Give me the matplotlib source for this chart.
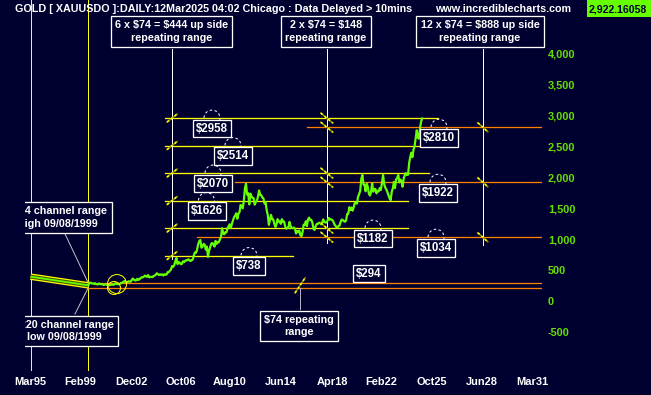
import matplotlib
matplotlib.use('Agg')
import matplotlib.pyplot as plt
from matplotlib.patches import Ellipse, Rectangle
import numpy as np

# ---------------- data ----------------
# monthly gold price (USD/oz), Aug 1999 .. Mar 2025
price_start = 1999 + 7.5 / 12
prices = [
    256, 299, 300, 292, 288,
    283, 293, 278, 274, 273, 288, 276, 277, 273, 264, 270, 274,
    266, 267, 258, 264, 267, 270, 266, 273, 293, 279, 275, 277,
    282, 297, 301, 309, 326, 318, 304, 312, 324, 317, 317, 347,
    368, 348, 335, 339, 364, 346, 354, 375, 388, 386, 398, 416,
    400, 396, 424, 388, 393, 394, 391, 408, 416, 428, 453, 438,
    423, 435, 428, 435, 417, 436, 429, 434, 473, 470, 495, 513,
    569, 557, 582, 650, 700, 600, 633, 624, 599, 604, 646, 632,
    651, 665, 662, 680, 659, 650, 666, 673, 743, 789, 783, 834,
    923, 972, 990, 865, 887, 926, 914, 834, 884, 718, 815, 870,
    928, 942, 916, 883, 975, 927, 955, 955, 1001, 1040, 1180, 1096,
    1081, 1116, 1113, 1180, 1213, 1244, 1181, 1248, 1307, 1357, 1386, 1421,
    1332, 1411, 1439, 1556, 1536, 1500, 1628, 1826, 1900, 1722, 1746, 1565,
    1738, 1697, 1668, 1664, 1560, 1604, 1622, 1691, 1790, 1719, 1713, 1675,
    1663, 1578, 1596, 1472, 1393, 1234, 1313, 1396, 1327, 1323, 1253, 1202,
    1240, 1326, 1284, 1291, 1250, 1327, 1282, 1287, 1210, 1172, 1183, 1199,
    1283, 1213, 1183, 1184, 1190, 1172, 1095, 1135, 1115, 1142, 1065, 1050,
    1118, 1238, 1233, 1293, 1215, 1322, 1351, 1309, 1316, 1273, 1173, 1152,
    1211, 1249, 1249, 1268, 1268, 1242, 1269, 1322, 1280, 1271, 1275, 1303,
    1345, 1318, 1325, 1315, 1299, 1253, 1224, 1201, 1192, 1215, 1222, 1282,
    1321, 1313, 1292, 1284, 1305, 1409, 1413, 1520, 1472, 1513, 1464, 1517,
    1589, 1585, 1577, 1686, 1730, 1781, 1975, 2040, 1887, 1879, 1776, 1898,
    1848, 1734, 1708, 1769, 1907, 1770, 1814, 1813, 1743, 1783, 1774, 1829,
    1797, 1909, 2040, 1897, 1837, 1807, 1765, 1711, 1660, 1633, 1768, 1824,
    1928, 1827, 1969, 1990, 2040, 1919, 1965, 1940, 1849, 1983, 2036, 2070,
    2039, 2044, 2230, 2330, 2400, 2326, 2447, 2503, 2634, 2760, 2643, 2625,
    2798, 2900, 2950,
]
last_price = '2,922.16058'

# channel 1995 -> 09/08/1999
channel_x = [1995.2, 1999.62]
channel_y = [398, 258]

# levels
base_levels = [294, 220]                 # $74 channel
orange_levels = [1034, 1922, 2810]       # 12 x $74 steps
yellow_levels = [738, 1182, 1626, 2070, 2514, 2958]  # 6 x $74 steps

y_ticks = [-500, 0, 500, 1000, 1500, 2000, 2500, 3000, 3500, 4000]
x_tick_pos = [1995.16, 1999.0, 2002.9, 2006.73, 2010.48, 2014.39, 2018.3,
              2022.05, 2025.96, 2029.79, 2033.62]
x_tick_labels = ['Mar95', 'Feb99', 'Dec02', 'Oct06', 'Aug10', 'Jun14', 'Apr18',
                 'Feb22', 'Oct25', 'Jun28', 'Mar31']

# ---------------- layout ----------------
BG = '#000030'
YEL = '#ffff00'
ORG = '#ff7f00'
GRN = '#66ff00'
AXG = '#66dd00'
FONT = 'Liberation Sans'

W, H, DPI = 651, 395, 72
fig = plt.figure(figsize=(W / DPI, H / DPI), dpi=DPI, facecolor=BG)
ax = fig.add_axes([25 / W, 24 / H, 517 / W, 371 / H], facecolor=BG)
X0, X1 = 1994.77, 2034.39
Y0, Y1 = -1125, 4864
ax.set_xlim(X0, X1)
ax.set_ylim(Y0, Y1)
for s in ax.spines.values():
    s.set_visible(False)

PXX = (X1 - X0) / 517.0   # years per pixel
PXY = (Y1 - Y0) / 371.0   # dollars per pixel

txt = dict(family=FONT, fontweight='bold', color='white', parse_math=False)

# yellow vertical markers
for xv in channel_x:
    ax.axvline(xv, color=YEL, lw=1.0, zorder=2)

# base orange lines
for lv in base_levels:
    ax.plot([channel_x[1], X1], [lv, lv], color=ORG, lw=1.3, zorder=2)

# orange level lines
orange_start = [2007.93, 2010.86, 2016.35]
for lv, xs in zip(orange_levels, orange_start):
    ax.plot([xs, X1], [lv, lv], color=ORG, lw=1.3, zorder=2)

# yellow up side lines
yellow_end = [2015.29, 2024.1, 2024.1, 2025.73, 2027.0, 2026.4]
for lv, xe in zip(yellow_levels, yellow_end):
    ax.plot([2005.5, xe], [lv, lv], color=YEL, lw=1.3, zorder=2)

# channel band and price
ax.plot(channel_x, channel_y, color=YEL, lw=6.5, zorder=3, solid_capstyle='butt')
ax.plot(channel_x, channel_y, color='#4a5a00', lw=4.0, zorder=3, solid_capstyle='butt')
ax.plot(channel_x, channel_y, color=GRN, lw=1.8, zorder=3, solid_capstyle='butt')
t = price_start + np.arange(len(prices)) / 12.0
ax.plot(np.concatenate([[channel_x[1]], t]), [channel_y[1]] + prices,
        color=GRN, lw=2.2, zorder=4, solid_joinstyle='round')

# yellow circles at 2001 low
for cx, cy, r in [(2001.82, 279, 9.5), (2001.59, 215, 6.5)]:
    ax.add_patch(Ellipse((cx, cy), 2 * r * PXX, 2 * r * PXY, fill=False,
                         ec=YEL, lw=1.0, zorder=5))

# callout vertical lines (white)
callout_x = [2006.04, 2017.9, 2029.85]
callout_bottom = [690, 945, 905]
for xv, yb in zip(callout_x, callout_bottom):
    ax.plot([xv, xv], [4070, yb], color='white', lw=1.0, zorder=2)

def slash(x, y, wpx, hpx, forward=True):
    dx, dy = wpx * PXX, hpx * PXY
    if forward:
        xs, ys = [x - dx, x + dx], [y - dy, y + dy]
    else:
        xs, ys = [x - dx, x + dx], [y + dy, y - dy]
    ax.plot(xs, ys, color='#8a8a00', lw=1.6, zorder=5)
    ax.plot(xs, ys, color=YEL, lw=1.6, ls=(0, (1.5, 1.5)), zorder=5)

for lv in yellow_levels:
    slash(callout_x[0], lv, 5, 4, True)
for lv in [2958, 2810, 2070, 1922, 1182, 1034]:
    slash(callout_x[1], lv, 6, 5, False)
for lv in orange_levels:
    slash(callout_x[2], lv, 5, 4.5, False)
slash(2015.85, (base_levels[0] + base_levels[1]) / 2, 5, 7.5, True)
ax.plot([2015.85, 2015.85], [214, -124], color='#b0b0c0', lw=1.0, zorder=2)

# price labels with dashed circle
label_vals = [2958, 2514, 2070, 1626, 1182, 738, 2810, 1922, 1034]
label_x = [2009.10, 2010.71, 2009.18, 2008.68, 2021.44, 2011.94, 2026.50,
           2026.42, 2026.27]
for v, lx in zip(label_vals, label_x):
    ax.add_patch(Ellipse((lx, v), 16 * PXX, 16 * PXY, fill=False, ec='white',
                         lw=1.0, ls=(0, (2.5, 2.5)), zorder=5))
    ax.annotate(f'${v}', xy=(lx, v), xytext=(0, -10.5), textcoords='offset points',
                ha='center', va='center', fontsize=11.5, zorder=7,
                bbox=dict(boxstyle='square,pad=0.25', fc=BG, ec='white', lw=1.3),
                **txt)
ax.annotate(f'${base_levels[0]}', xy=(2021.13, base_levels[0]), xytext=(0, 9.5),
            textcoords='offset points', ha='center', va='center', fontsize=11.5, zorder=7,
            bbox=dict(boxstyle='square,pad=0.25', fc=BG, ec='white', lw=1.3), **txt)

box = dict(boxstyle='square,pad=0.38', fc=BG, ec='white', lw=1.3)
LS = 1.3
# top callout boxes
top_texts = ['6 x $74 = $444 up side\nrepeating range',
             '2 x $74 = $148\nrepeating range',
             '12 x $74 = $888 up side\nrepeating range']
top_x = [2006.01, 2017.82, 2029.64]
for s, bx in zip(top_texts, top_x):
    ax.text(bx, 4353, s, ha='center', va='center', fontsize=10.8, linespacing=LS,
            bbox=box, zorder=7, **txt)

# $74 box
ax.text(2015.77, -398, f'${base_levels[0] - base_levels[1]} repeating\nrange',
        ha='center', va='center', fontsize=10.8, linespacing=LS, bbox=box, zorder=7, **txt)

# channel boxes (clipped at left)
ax.plot([1997.84, channel_x[1]], [1087, base_levels[0]], color='#c0c0c8', lw=1.0, zorder=2)
ax.plot([1998.6, channel_x[1]], [-205, base_levels[1]], color='#c0c0c8', lw=1.0, zorder=2)
ax.text(1997.26, 1353, f'${base_levels[0]} channel range\nhigh 09/08/1999',
        ha='center', va='center', fontsize=10.8, linespacing=LS, bbox=box,
        zorder=7, clip_on=True, **txt)
ax.text(1997.76, -479, f'${base_levels[1]} channel range\nlow 09/08/1999',
        ha='center', va='center', fontsize=10.8, linespacing=LS, bbox=box,
        zorder=7, clip_on=True, **txt)

# axes ticks
ax.yaxis.tick_right()
ax.set_yticks(y_ticks)
ax.set_yticklabels([f'{v:,}' for v in y_ticks])
ax.tick_params(axis='y', length=0, pad=6, labelcolor=AXG)
ax.set_xticks(x_tick_pos)
ax.set_xticklabels(x_tick_labels)
ax.tick_params(axis='x', length=0, pad=6, labelcolor='white')
for lab in ax.get_yticklabels():
    lab.set_family(FONT)
    lab.set_fontweight('bold')
    lab.set_fontsize(11)
for lab in ax.get_xticklabels():
    lab.set_family(FONT)
    lab.set_fontweight('bold')
    lab.set_fontsize(11)

# header
fig.text(15 / W, 1 - 9 / H,
         'GOLD [ XAUUSDO ]:DAILY:12Mar2025 04:02 Chicago : Data Delayed > 10mins',
         ha='left', va='center', fontsize=10.8, zorder=10, **txt)
fig.text(435 / W, 1 - 9 / H, 'www.incrediblecharts.com', ha='left', va='center',
         fontsize=10.8, zorder=10, **txt)
fig.patches.append(Rectangle((586.7 / W, 1 - 17 / H), (651 - 586.7) / W, 17 / H,
                             transform=fig.transFigure, fc=GRN, ec='none', zorder=9))
fig.text(618 / W, 1 - 9 / H, last_price, ha='center', va='center',
         fontsize=10.5, family=FONT, fontweight='bold', color=BG, zorder=10)

fig.savefig('out.png', dpi=DPI, facecolor=BG)
